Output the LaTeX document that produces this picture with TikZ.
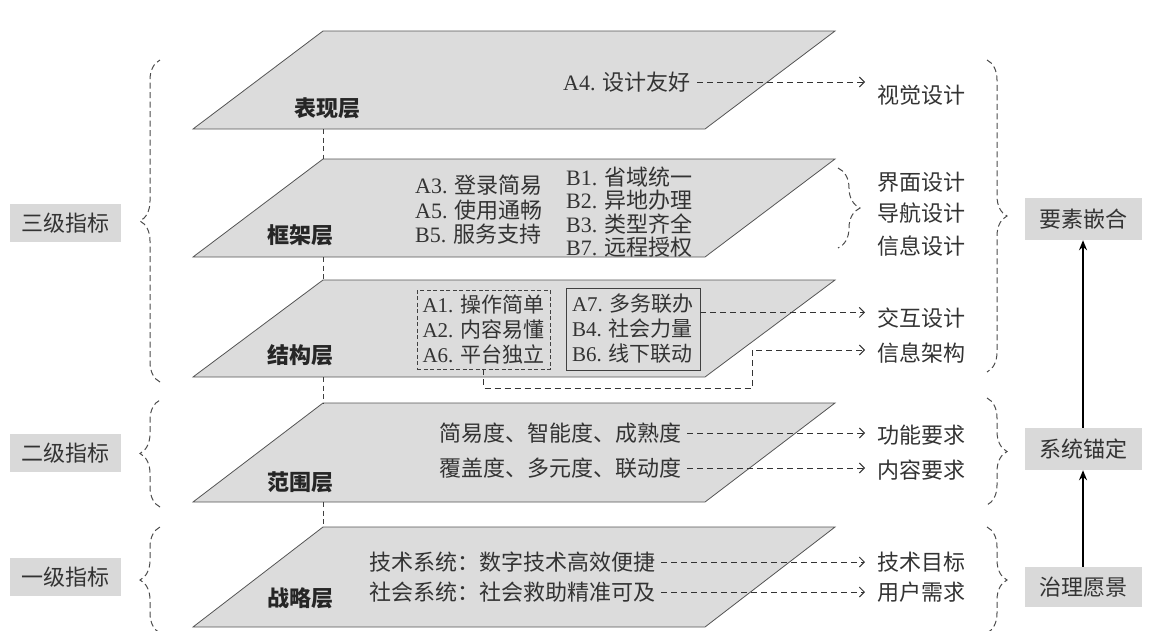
\documentclass[tikz,border=0pt]{standalone}
\usepackage{fontspec}
\setmainfont{Liberation Serif}
\newfontfamily\cjk{Noto Sans CJK SC}
\usetikzlibrary{arrows.meta,calc,decorations.pathreplacing}
\definecolor{txt}{HTML}{333333}
\definecolor{layerfill}{HTML}{DCDCDC}
\definecolor{boxfill}{HTML}{D9D9D9}
\definecolor{edge}{HTML}{555555}
\newcommand{\zh}[1]{{\cjk #1}}
\begin{document}
\begin{tikzpicture}[x=1pt,y=-1pt,
  layer/.style={draw=edge,line width=0.8pt,fill=layerfill},
  vlink/.style={draw=black!75,line width=0.9pt,dash pattern=on 5pt off 3.5pt},
  lname/.style={font=\cjk\bfseries\fontsize{22}{26}\selectfont,text=black!85,inner sep=0pt},
  item/.style={font=\fontsize{22}{26}\selectfont,text=txt,anchor=west,inner sep=2pt},
  lab/.style={font=\cjk\fontsize{22}{26}\selectfont,text=txt,anchor=west,inner sep=0pt},
  dasharrow/.style={draw=black!80,line width=1pt,dash pattern=on 6pt off 4pt,
    -{Straight Barb[length=5pt,width=10pt,line width=1pt]},shorten <=4pt,shorten >=12pt},
  dbrace/.style={draw=black!70,line width=1pt,dash pattern=on 6pt off 3.5pt,
    decorate,decoration={brace,amplitude=#1}},
  dbrace/.default=20pt,
  lvl/.style={fill=boxfill,font=\cjk\fontsize{22}{26}\selectfont,text=txt,
    minimum width=111pt,minimum height=38pt,inner sep=0pt},
  goal/.style={fill=boxfill,font=\cjk\fontsize{22}{26}\selectfont,text=txt,
    minimum width=117pt,minimum height=42pt,inner sep=0pt},
  uparrow/.style={draw=black,line width=1.8pt,-{Stealth[length=10pt,width=8pt]}}
]
\useasboundingbox (0,0) rectangle (1151,630);

% layers
\foreach \t/\b in {31/129,159/257,280/377,403/502,527/627}
  \draw[layer] (193,\b) -- (705,\b) -- (835,\t) -- (323,\t) -- cycle;
\foreach \a/\b in {129/159,257/280,377/403,502/527}
  \draw[vlink] (323,\a) -- (323,\b);

% layer names
\node[lname] (l1) at (327,108) {表现层};
\node[lname] (l2) at (300,235) {框架层};
\node[lname] (l3) at (300,355) {结构层};
\node[lname] (l4) at (300,482) {范围层};
\node[lname] (l5) at (300,598) {战略层};

% layer 1
\node[item] (a4) at (561,82) {A4. \zh{设计友好}};
\node[lab] (vis) at (877,95) {视觉设计};
\draw[dasharrow] (a4.east) -- (a4.east -| vis.west);

% layer 2
\node[item,align=left,font=\fontsize{22}{24.5}\selectfont] (fa) at (413,210)
  {A3. \zh{登录简易}\\A5. \zh{使用通畅}\\B5. \zh{服务支持}};
\node[item,align=left,font=\fontsize{22}{23.5}\selectfont] (fb) at (564,212)
  {B1. \zh{省域统一}\\B2. \zh{异地办理}\\B3. \zh{类型齐全}\\B7. \zh{远程授权}};
\draw[dbrace=22pt] (838,168) -- (838,248);
\node[lab] (jm) at (877,182) {界面设计};
\node[lab] (dh) at (877,213) {导航设计};
\node[lab] (xs) at (877,246) {信息设计};

% layer 3
\node[draw=black!75,line width=0.8pt,dash pattern=on 4pt off 2.5pt,align=left,
  font=\fontsize{21}{25}\selectfont,text=txt,minimum width=133pt,minimum height=79pt,inner sep=2pt]
  (dbox) at (483.5,329.5) {A1. \zh{操作简单}\\A2. \zh{内容易懂}\\A6. \zh{平台独立}};
\node[draw=black!75,line width=0.9pt,align=left,
  font=\fontsize{21}{25}\selectfont,text=txt,minimum width=134pt,minimum height=82pt,inner sep=2pt]
  (ebox) at (633,329) {A7. \zh{多务联办}\\B4. \zh{社会力量}\\B6. \zh{线下联动}};
\node[lab] (jh) at (877,318) {交互设计};
\node[lab] (xj) at (877,353) {信息架构};
\coordinate (eo) at ($(ebox.north east)!0.3!(ebox.south east)$);
\draw[dasharrow,shorten <=0pt] (eo) -- (eo -| jh.west);
\coordinate (bend) at (752,350);
\draw[dasharrow,shorten <=0pt] (dbox.south) -- ++(0,19) -| (bend) -- (bend -| xj.west);

% layer 4
\node[item,font=\cjk\fontsize{22}{26}\selectfont] (s1) at (437,433) {简易度、智能度、成熟度};
\node[item,font=\cjk\fontsize{22}{26}\selectfont] (s2) at (437,468) {覆盖度、多元度、联动度};
\node[lab] (gn) at (877,435) {功能要求};
\node[lab] (nr) at (877,470) {内容要求};
\draw[dasharrow] (s1.east) -- (s1.east -| gn.west);
\draw[dasharrow] (s2.east) -- (s2.east -| nr.west);

% layer 5
\node[item,font=\cjk\fontsize{22}{26}\selectfont] (t1) at (367,562) {技术系统：数字技术高效便捷};
\node[item,font=\cjk\fontsize{22}{26}\selectfont] (t2) at (367,592) {社会系统：社会救助精准可及};
\node[lab] (js) at (877,562) {技术目标};
\node[lab] (yh) at (877,592) {用户需求};
\draw[dasharrow] (t1.east) -- (t1.east -| js.west);
\draw[dasharrow] (t2.east) -- (t2.east -| yh.west);

% left levels
\node[lvl] (k3) at (65.5,223) {三级指标};
\node[lvl] (k2) at (65.5,453) {二级指标};
\node[lvl] (k1) at (65.5,577) {一级指标};
\draw[dbrace] (160,382) -- (160,60);
\draw[dbrace] (160,507) -- (160,400);
\draw[dbrace] (160,633) -- (160,527);

% right braces and goals
\draw[dbrace] (987,60) -- (987,372);
\draw[dbrace] (987,398) -- (987,505);
\draw[dbrace] (987,527) -- (987,633);
\node[goal] (ys) at (1083,219) {要素嵌合};
\node[goal] (xt) at (1083,449) {系统锚定};
\node[goal,minimum height=40pt] (zl) at (1083,587) {治理愿景};
\draw[uparrow] (zl.north) -- (xt.south);
\draw[uparrow] (xt.north) -- (ys.south);
\end{tikzpicture}
\end{document}
